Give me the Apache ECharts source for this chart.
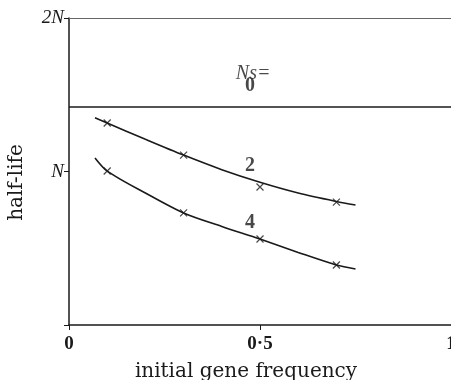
<!DOCTYPE html>
<html>
<head>
<meta charset="utf-8">
<script src="https://cdn.jsdelivr.net/npm/echarts@6/dist/echarts.min.js"></script>
<style>
  html, body { margin: 0; padding: 0; background: #fff; }
  #chart { width: 451px; height: 380px; }
</style>
</head>
<body>
<div id="chart"></div>
<script>
// values (y in units of N)
var neutralX = [0, 1];
var neutralY = [1.42, 1.42];

// traced curves
var curve2X = [0.068, 0.1, 0.2, 0.3, 0.4, 0.5, 0.6, 0.7, 0.75];
var curve2Y = [1.35, 1.316, 1.21, 1.107, 1.012, 0.93, 0.86, 0.805, 0.782];
var curve4X = [0.068, 0.1, 0.2, 0.3, 0.4, 0.5, 0.6, 0.7, 0.75];
var curve4Y = [1.088, 1.003, 0.86, 0.73, 0.642, 0.56, 0.473, 0.391, 0.365];

// plotted points (crosses)
var marksX = [0.1, 0.3, 0.5, 0.7];
var marks2Y = [1.316, 1.107, 0.899, 0.80];
var marks4Y = [1.003, 0.73, 0.56, 0.391];

var xTicks = [0, 0.5, 1];
var yTickNames = { 0: '', 1: 'N', 2: '2N' };

var notes = [
  { text: 'Ns=', x: 0.482, y: 1.64, italic: true },
  { text: '0', x: 0.474, y: 1.56 },
  { text: '2', x: 0.474, y: 1.04 },
  { text: '4', x: 0.474, y: 0.665 }
];

function pairs(xs, ys) {
  return xs.map(function (x, i) { return [x, ys[i]]; });
}

var serif = 'Liberation Serif';
var wide = 'DejaVu Serif';
var ink = '#1a1a1a';
var cross = 'path://M0,0L10,10M10,0L0,10';

var chart = echarts.init(document.getElementById('chart'));
chart.setOption({
  animation: false,
  grid: { left: 69, right: 0, top: 18, bottom: 55, containLabel: false, outerBoundsMode: 'none' },
  xAxis: [{
    type: 'value', min: 0, max: 1, interval: 0.5,
    name: 'initial gene frequency', nameLocation: 'middle', nameGap: 37,
    nameTextStyle: { fontFamily: wide, fontSize: 20, color: ink, padding: [0, 28, 0, 0] },
    axisLine: { lineStyle: { color: ink, width: 1.5 } },
    axisTick: { show: true, length: 5, lineStyle: { color: ink } },
    axisLabel: {
      fontFamily: serif, fontWeight: 'bold', fontSize: 19, color: ink, margin: 10,
      formatter: function (v) { return xTicks.indexOf(v) >= 0 ? String(v).replace('.', '·') : ''; }
    },
    splitLine: { show: false }
  }, {
    type: 'value', min: 0, max: 1, position: 'top',
    axisLine: { show: true, lineStyle: { color: '#666', width: 1 } },
    axisTick: { show: false }, axisLabel: { show: false }, splitLine: { show: false }
  }],
  yAxis: {
    type: 'value', min: 0, max: 2, interval: 1,
    name: 'half-life', nameLocation: 'middle', nameGap: 42,
    nameTextStyle: { fontFamily: wide, fontSize: 20, color: ink, padding: [0, 22, 0, 0] },
    axisLine: { show: true, lineStyle: { color: ink, width: 1.5 } },
    axisTick: { show: true, length: 5, lineStyle: { color: ink } },
    axisLabel: {
      fontFamily: serif, fontStyle: 'italic', fontSize: 19, color: ink, margin: 5,
      formatter: function (v) { return yTickNames[v]; }
    },
    splitLine: { show: false }
  },
  series: [
    {
      type: 'line', data: pairs(neutralX, neutralY), symbol: 'none',
      lineStyle: { color: ink, width: 1.6 }
    },
    {
      type: 'line', data: pairs(curve2X, curve2Y), symbol: 'none', smooth: 0.3,
      lineStyle: { color: ink, width: 1.6 }
    },
    {
      type: 'line', data: pairs(curve4X, curve4Y), symbol: 'none', smooth: 0.3,
      lineStyle: { color: ink, width: 1.6 }
    },
    {
      type: 'scatter', data: pairs(marksX, marks2Y).concat(pairs(marksX, marks4Y)),
      symbol: cross, symbolSize: 7,
      itemStyle: { color: 'none', borderColor: ink, borderWidth: 1.2 }
    },
    {
      type: 'scatter', symbolSize: 0, silent: true,
      data: notes.map(function (n) {
        return {
          value: [n.x, n.y],
          label: {
            show: true, position: 'inside', formatter: n.text,
            fontFamily: serif, fontSize: 20, color: ink,
            fontStyle: n.italic ? 'italic' : 'normal',
            fontWeight: n.italic ? 'normal' : 'bold'
          }
        };
      })
    }
  ]
});
</script>
</body>
</html>
